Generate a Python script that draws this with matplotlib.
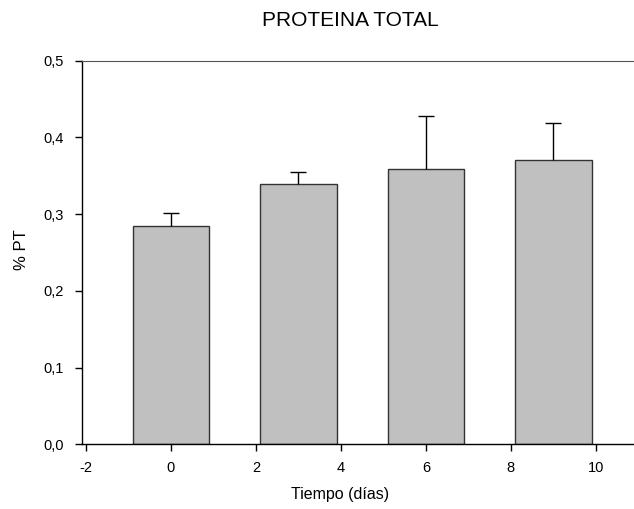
import numpy as np
import matplotlib.pyplot as plt
from matplotlib.ticker import FuncFormatter

plt.rcParams['font.family'] = ['Liberation Sans', 'DejaVu Sans']
plt.rcParams['axes.unicode_minus'] = False

dias = [0, 3, 6, 9]
pt = [0.285, 0.339, 0.359, 0.371]
err = [0.016, 0.016, 0.069, 0.048]

fig = plt.figure(figsize=(6.34, 5.09), dpi=100)
ax = fig.add_axes([0.1289, 0.1273, 0.8711, 0.7534])

ax.bar(dias, pt, width=1.8, color='#c0c0c0', edgecolor='#333333', linewidth=1.0, zorder=2)
# only the upper half of the error bar is shown
_, caps, _ = ax.errorbar(dias, pt, yerr=[np.zeros(len(err)), err], fmt='none', ecolor='black',
                         elinewidth=1.0, capsize=6, capthick=1.0, zorder=3)
caps[0].set_visible(False)

ax.set_xlim(-2.1, 10.9)
ax.set_ylim(0, 0.5)
ax.set_xticks([-2, 0, 2, 4, 6, 8, 10])
ax.set_yticks([0, 0.1, 0.2, 0.3, 0.4, 0.5])
ax.yaxis.set_major_formatter(FuncFormatter(lambda v, p: f"{v:.1f}".replace('.', ',')))
ax.tick_params(direction='out', length=5, width=1.0, labelsize=10.5, colors='black')
ax.tick_params(axis='x', pad=7)
ax.tick_params(axis='y', pad=8)

ax.spines['right'].set_visible(False)
ax.spines['top'].set_color('#555555')
for s in ['left', 'bottom']:
    ax.spines[s].set_linewidth(1.0)

fig.text(350 / 634, 1 - 20 / 509, 'PROTEINA TOTAL', ha='center', va='center', fontsize=15)
fig.text(340 / 634, 1 - 495 / 509, 'Tiempo (días)', ha='center', va='center', fontsize=11.5)
fig.text(22 / 634, 1 - 250 / 509, '% PT', ha='center', va='center', rotation=90, fontsize=12)

fig.savefig('out.png', dpi=100)
